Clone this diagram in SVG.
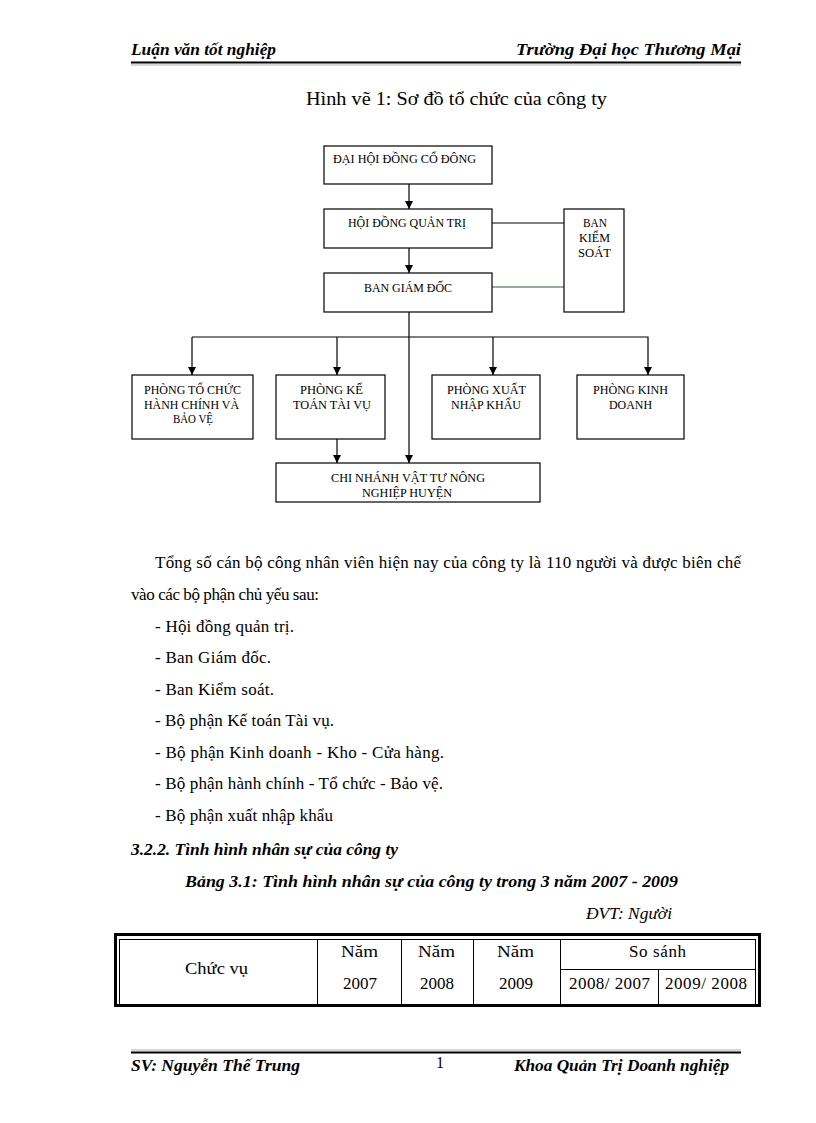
<svg xmlns="http://www.w3.org/2000/svg" width="816" height="1123" viewBox="0 0 816 1123">
<style>
text{font-family:"Liberation Serif","Times New Roman",serif;fill:#000}
.hd{font-size:17px;font-style:italic;font-weight:bold}
.nd{font-size:12.5px}
.box{fill:#fff;stroke:#000;stroke-width:1.2}
.ln{fill:none;stroke:#000;stroke-width:1.2}
.p{font-size:17px}
.tb{font-size:17px}
.c{text-anchor:middle}
</style>
<defs>
<marker id="ar" viewBox="0 0 10 10" refX="10" refY="5" markerWidth="8" markerHeight="8" markerUnits="userSpaceOnUse" orient="auto">
<path d="M0,0 L10,5 L0,10 z" fill="#000"/>
</marker>
</defs>
<rect width="816" height="1123" fill="#fff"/>
<!-- header -->
<text class="hd" x="131" y="55" textLength="145" lengthAdjust="spacingAndGlyphs">Luận văn tốt nghiệp</text>
<text class="hd" x="516" y="55" textLength="225" lengthAdjust="spacingAndGlyphs">Trường Đại học Thương Mại</text>
<line x1="131" y1="62.5" x2="741" y2="62.5" stroke="#000" stroke-width="2"/>
<line x1="131" y1="65" x2="741" y2="65" stroke="#999" stroke-width="0.8"/>
<text x="306" y="105" font-size="18" textLength="301" lengthAdjust="spacingAndGlyphs">Hình vẽ 1: Sơ đồ tổ chức của công ty</text>
<!-- connectors -->
<g id="connectors">
<line class="ln" x1="409" y1="184" x2="409" y2="209" marker-end="url(#ar)"/>
<line class="ln" x1="409" y1="248" x2="409" y2="273" marker-end="url(#ar)"/>
<line class="ln" x1="492" y1="223" x2="564" y2="223"/>
<line x1="492" y1="287" x2="564" y2="287" stroke="#2a5a2a" stroke-width="1.2"/>
<line class="ln" x1="409" y1="312" x2="409" y2="463" marker-end="url(#ar)"/>
<polyline class="ln" points="192,337 648,337 648,375" marker-end="url(#ar)"/>
<line class="ln" x1="192" y1="337" x2="192" y2="375" marker-end="url(#ar)"/>
<line class="ln" x1="337" y1="337" x2="337" y2="375" marker-end="url(#ar)"/>
<line class="ln" x1="493" y1="337" x2="493" y2="375" marker-end="url(#ar)"/>
<line class="ln" x1="337" y1="439" x2="337" y2="463" marker-end="url(#ar)"/>
</g>
<!-- nodes -->
<g id="dhdcd">
<rect class="box" x="324" y="146" width="168" height="38"/>
<text class="nd" x="333" y="163" textLength="143" lengthAdjust="spacingAndGlyphs">ĐẠI HỘI ĐỒNG CỔ ĐÔNG</text>
</g>
<g id="hdqt">
<rect class="box" x="324" y="209" width="168" height="39"/>
<text class="nd" x="348" y="227" textLength="118" lengthAdjust="spacingAndGlyphs">HỘI ĐỒNG QUẢN TRỊ</text>
</g>
<g id="bgd">
<rect class="box" x="324" y="273" width="168" height="39"/>
<text class="nd" x="364" y="292" textLength="88" lengthAdjust="spacingAndGlyphs">BAN GIÁM ĐỐC</text>
</g>
<g id="bks">
<rect class="box" x="564" y="209" width="60" height="103"/>
<text class="nd" x="583" y="227" textLength="24" lengthAdjust="spacingAndGlyphs">BAN</text>
<text class="nd" x="579" y="242" textLength="31" lengthAdjust="spacingAndGlyphs">KIỂM</text>
<text class="nd" x="578" y="257" textLength="33" lengthAdjust="spacingAndGlyphs">SOÁT</text>
</g>
<g id="ptc">
<rect class="box" x="132" y="375" width="121" height="64"/>
<text class="nd" x="144" y="394" textLength="97" lengthAdjust="spacingAndGlyphs">PHÒNG TỔ CHỨC</text>
<text class="nd" x="144" y="409" textLength="95" lengthAdjust="spacingAndGlyphs">HÀNH CHÍNH VÀ</text>
<text class="nd" x="173" y="423" textLength="40" lengthAdjust="spacingAndGlyphs">BẢO VỆ</text>
</g>
<g id="pkt">
<rect class="box" x="276" y="375" width="109" height="64"/>
<text class="nd" x="300" y="394" textLength="63" lengthAdjust="spacingAndGlyphs">PHÒNG KẾ</text>
<text class="nd" x="293" y="409" textLength="78" lengthAdjust="spacingAndGlyphs">TOÁN TÀI VỤ</text>
</g>
<g id="pxnk">
<rect class="box" x="432" y="375" width="108" height="64"/>
<text class="nd" x="447" y="394" textLength="79" lengthAdjust="spacingAndGlyphs">PHÒNG XUẤT</text>
<text class="nd" x="451" y="409" textLength="70" lengthAdjust="spacingAndGlyphs">NHẬP KHẨU</text>
</g>
<g id="pkd">
<rect class="box" x="577" y="375" width="107" height="64"/>
<text class="nd" x="593" y="394" textLength="75" lengthAdjust="spacingAndGlyphs">PHÒNG KINH</text>
<text class="nd" x="609" y="409" textLength="43" lengthAdjust="spacingAndGlyphs">DOANH</text>
</g>
<g id="cn">
<rect class="box" x="276" y="463" width="264" height="39"/>
<text class="nd" x="331" y="482" textLength="154" lengthAdjust="spacingAndGlyphs">CHI NHÁNH VẬT TƯ NÔNG</text>
<text class="nd" x="362" y="497" textLength="90" lengthAdjust="spacingAndGlyphs">NGHIỆP HUYỆN</text>
</g>
<!-- body text -->
<text class="p" x="155" y="568" textLength="586" lengthAdjust="spacing">Tổng số cán bộ công nhân viên hiện nay của công ty là 110 người và được biên chế</text>
<text class="p" x="131" y="600" textLength="188" lengthAdjust="spacing">vào các bộ phận chủ yếu sau:</text>
<text class="p" x="155" y="632" textLength="139" lengthAdjust="spacing">- Hội đồng quản trị.</text>
<text class="p" x="155" y="663" textLength="116" lengthAdjust="spacing">- Ban Giám đốc.</text>
<text class="p" x="155" y="695" textLength="119" lengthAdjust="spacing">- Ban Kiểm soát.</text>
<text class="p" x="155" y="726" textLength="179" lengthAdjust="spacing">- Bộ phận Kế toán Tài vụ.</text>
<text class="p" x="155" y="758" textLength="289" lengthAdjust="spacing">- Bộ phận Kinh doanh - Kho - Cửa hàng.</text>
<text class="p" x="155" y="789" textLength="288" lengthAdjust="spacing">- Bộ phận hành chính - Tổ chức - Bảo vệ.</text>
<text class="p" x="155" y="821" textLength="178" lengthAdjust="spacing">- Bộ phận xuất nhập khẩu</text>
<text x="131" y="855" font-size="17" font-style="italic" font-weight="bold" textLength="267" lengthAdjust="spacingAndGlyphs">3.2.2. Tình hình nhân sự của công ty</text>
<text x="185" y="887" font-size="17.5" font-style="italic" font-weight="bold" textLength="493" lengthAdjust="spacingAndGlyphs">Bảng 3.1: Tình hình nhân sự của công ty trong 3 năm 2007 - 2009</text>
<text x="586" y="919" font-size="17" font-style="italic" textLength="86" lengthAdjust="spacingAndGlyphs">ĐVT: Người</text>
<!-- table -->
<rect x="115.5" y="934.5" width="644" height="71" fill="none" stroke="#000" stroke-width="3"/>
<rect x="119.5" y="939.5" width="636" height="65" fill="none" stroke="#000" stroke-width="1"/>
<g stroke="#000" stroke-width="1">
<line x1="317.5" y1="939" x2="317.5" y2="1005"/>
<line x1="401.5" y1="939" x2="401.5" y2="1005"/>
<line x1="473.5" y1="939" x2="473.5" y2="1005"/>
<line x1="560.5" y1="939" x2="560.5" y2="1005"/>
<line x1="560" y1="969.5" x2="756" y2="969.5"/>
<line x1="658.5" y1="970" x2="658.5" y2="1005"/>
</g>
<text class="tb" x="185" y="974" textLength="63" lengthAdjust="spacingAndGlyphs">Chức vụ</text>
<text class="tb" x="341" y="957" textLength="37" lengthAdjust="spacingAndGlyphs">Năm</text>
<text class="tb" x="418" y="957" textLength="37" lengthAdjust="spacingAndGlyphs">Năm</text>
<text class="tb" x="497" y="957" textLength="37" lengthAdjust="spacingAndGlyphs">Năm</text>
<text class="tb c" x="360" y="989">2007</text>
<text class="tb c" x="437" y="989">2008</text>
<text class="tb c" x="516" y="989">2009</text>
<text class="tb" x="629" y="957" textLength="57" lengthAdjust="spacing">So sánh</text>
<text class="tb" x="569" y="989" textLength="81" lengthAdjust="spacing">2008/ 2007</text>
<text class="tb" x="665" y="989" textLength="82" lengthAdjust="spacing">2009/ 2008</text>
<!-- footer -->
<line x1="131" y1="1050" x2="741" y2="1050" stroke="#999" stroke-width="0.8"/>
<line x1="131" y1="1052.5" x2="741" y2="1052.5" stroke="#000" stroke-width="2"/>
<text class="hd" x="131" y="1071" textLength="169" lengthAdjust="spacingAndGlyphs">SV: Nguyễn Thế Trung</text>
<text x="440" y="1068" font-size="16" class="c">1</text>
<text class="hd" x="514" y="1071" textLength="215" lengthAdjust="spacingAndGlyphs">Khoa Quản Trị Doanh nghiệp</text>
</svg>
